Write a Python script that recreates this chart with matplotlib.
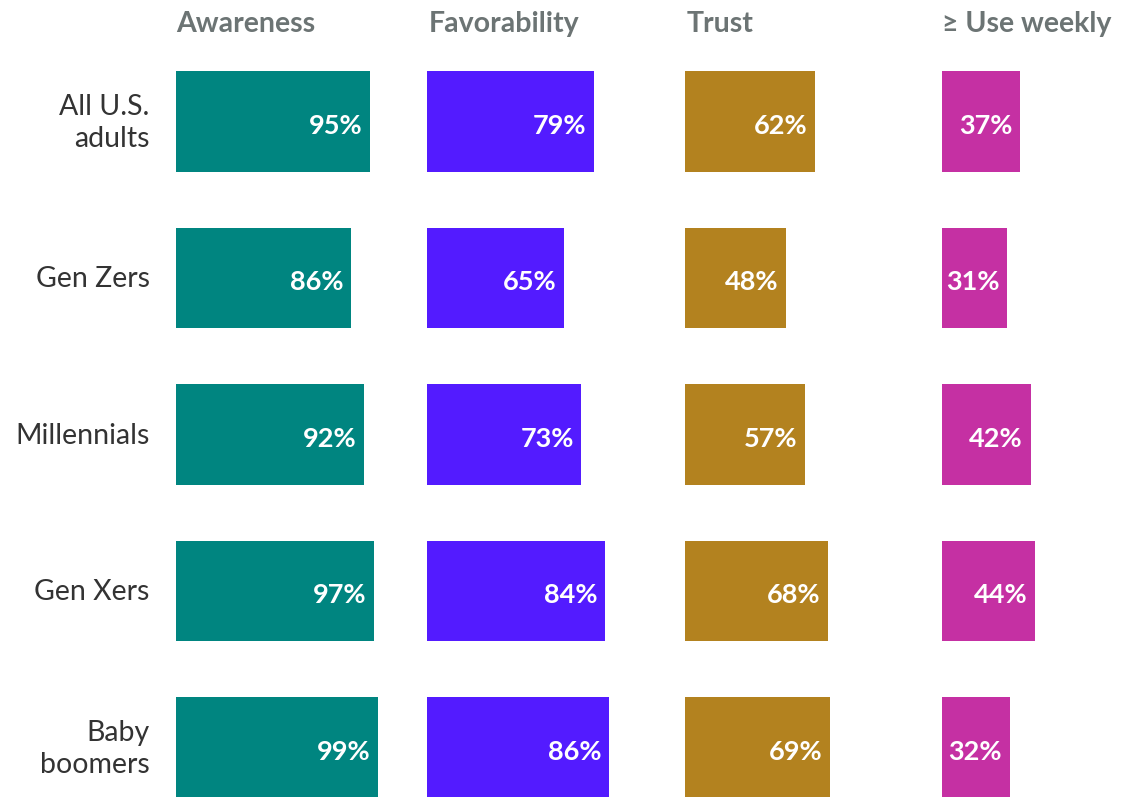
import matplotlib
matplotlib.use("Agg")
import matplotlib.pyplot as plt

plt.rcParams['font.family'] = ['Lato', 'DejaVu Sans']

groups = ["All U.S.\nadults", "Gen Zers", "Millennials", "Gen Xers", "Baby\nboomers"]
metrics = ["Awareness", "Favorability", "Trust", "\u2265 Use weekly"]
awareness = [95, 86, 92, 97, 99]
favorability = [79, 65, 73, 84, 86]
trust = [62, 48, 57, 68, 69]
use_weekly = [37, 31, 42, 44, 32]
series = [awareness, favorability, trust, use_weekly]
colors = ["#008580", "#531BFF", "#B3821F", "#C530A3"]

W, H = 1122, 797
fig = plt.figure(figsize=(W / 100, H / 100), dpi=100)

# axes geometry in pixels: (left, width for 0..100)
col_geom = [(176, 204), (427, 211.5), (685, 210), (942, 211)]
ax_top, ax_bot = 43.25, 797
row_step = 156.5
span = (ax_bot - ax_top) / row_step

for ci, (vals, title, color) in enumerate(zip(series, metrics, colors)):
    left, width = col_geom[ci]
    ax = fig.add_axes([left / W, 1 - ax_bot / H, width / W, (ax_bot - ax_top) / H])
    ax.barh(range(len(groups)), vals, height=0.645, color=color)
    ax.set_xlim(0, 100)
    ax.set_ylim(-0.5 + span, -0.5)
    for s in ax.spines.values():
        s.set_visible(False)
    ax.set_xticks([])
    ax.set_yticks([])
    for ri, v in enumerate(vals):
        ax.annotate(f"{v}%", xy=(v, ri), xytext=(-5.5, -3), textcoords="offset points",
                    ha="right", va="center", color="white", fontsize=19.5,
                    fontweight="bold", fontstyle="normal")
    fig.text((left + (2 if ci in (1, 2) else 0)) / W, 1 - 32 / H, title, ha="left", va="baseline",
             fontsize=20.5, fontweight="bold", fontstyle="normal", color="#6C7474")
    if ci == 0:
        for ri, g in enumerate(groups):
            ax.annotate(g, xy=(0, ri), xytext=(-19, -1), textcoords="offset points",
                        ha="right", va="center", fontsize=20.5, color="#333333",
                        linespacing=1.3, annotation_clip=False)

fig.savefig("out.png", dpi=100)
